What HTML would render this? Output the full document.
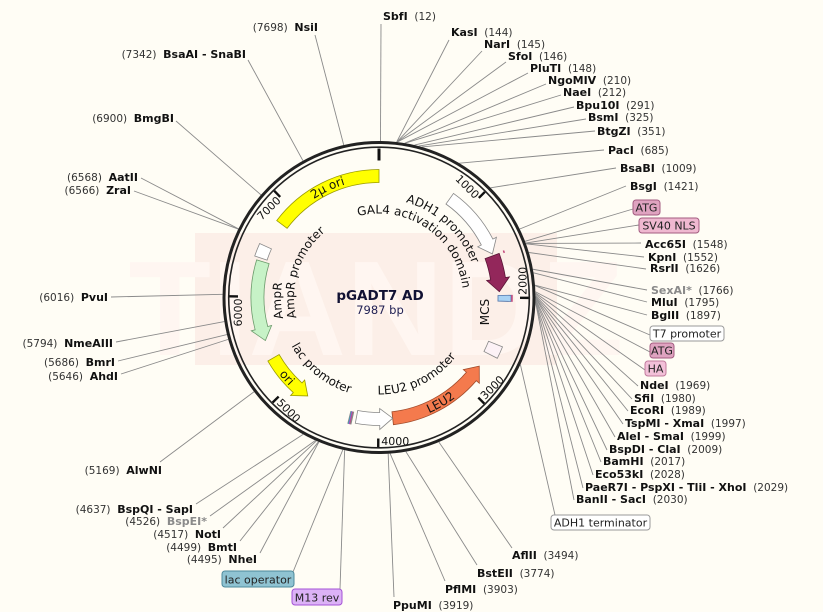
<!DOCTYPE html>
<html><head><meta charset="utf-8"><style>
html,body{margin:0;padding:0;background:#fffdf5;}
svg{display:block;font-family:"DejaVu Sans","Liberation Sans",sans-serif;}
</style></head><body>
<svg id="map" width="823" height="612" viewBox="0 0 823 612" xmlns="http://www.w3.org/2000/svg">
<rect width="823" height="612" fill="#fffdf5"/>
<rect x="195" y="233" width="362" height="132" fill="#fcefe8"/>
<text x="376" y="355" text-anchor="middle" font-size="135" font-weight="bold" fill="#fff6f1" font-family="Liberation Sans, sans-serif">TIANDZ</text>
<g id="leaders"></g>
<g id="ring"></g>
<g id="features"></g>
<g id="labels"></g>
<text x="380" y="300" text-anchor="middle" font-size="13.5" font-weight="bold" fill="#111133">pGADT7 AD</text>
<text x="380" y="314" text-anchor="middle" font-size="11.5" fill="#222255">7987 bp</text>
</svg>
<script>
const TOTAL = 7987;
// restriction sites
const siteNames = ['SbfI','KasI','NarI','SfoI','PluTI','NgoMIV','NaeI','Bpu10I','BsmI','BtgZI','PacI','BsaBI','BsgI','Acc65I','KpnI','RsrII','SexAI*','MluI','BglII','NdeI','SfiI','EcoRI','TspMI - XmaI','AleI - SmaI','BspDI - ClaI','BamHI','Eco53kI','PaeR7I - PspXI - TliI - XhoI','BanII - SacI','AflII','BstEII','PflMI','PpuMI','NheI','BmtI','NotI','BspEI*','BspQI - SapI','AlwNI','AhdI','BmrI','NmeAIII','PvuI','ZraI','AatII','BmgBI','BsaAI - SnaBI','NsiI'];
const sitePositions = [12,144,145,146,148,210,212,291,325,351,685,1009,1421,1548,1552,1626,1766,1795,1897,1969,1980,1989,1997,1999,2009,2017,2028,2029,2030,3494,3774,3903,3919,4495,4499,4517,4526,4637,5169,5646,5686,5794,6016,6566,6568,6900,7342,7698];
// layout: [textX, baselineY, side(1=right,-1=left), anchorX, anchorY]
const siteLayout = [[383,20,1,381,24],[451,36,1,449,40],[484,48,1,482,51],[508,60,1,506,62],[530,72,1,528,73],[548,84,1,546,84],[563,96,1,561,95],[576,109,1,574,107],[588,121,1,586,119],[597,135,1,595,131],[608,154,1,604,150],[620,172,1,616,168],[630,190,1,626,186],[645,248,1,641,243],[648,261,1,644,257],[650,272,1,646,269],[651,294,1,647,290],[651,306,1,647,302],[651,319,1,647,315],[640,389,1,638,386],[634,402,1,632,399],[630,414,1,628,411],[625,427,1,623,424],[617,440,1,615,437],[609,453,1,607,450],[603,465,1,601,462],[595,478,1,593,475],[585,491,1,583,488],[576,503,1,574,500],[512,559,1,512,548],[477,577,1,477,565],[445,593,1,445,581],[393,609,1,394,597],[257,563,-1,260,553],[237,551,-1,240,541],[221,538,-1,223,528],[207,525,-1,210,516],[193,513,-1,196,504],[162,474,-1,160,462],[118,380,-1,121,374],[115,366,-1,118,361],[113,347,-1,116,342],[108,301,-1,111,297],[131,194,-1,134,191],[138,181,-1,141,178],[174,122,-1,176,121],[246,58,-1,248,60],[318,31,-1,315,35]];
// boxed feature callouts
const boxNames = ['ATG','SV40 NLS','T7 promoter','ATG','HA','ADH1 terminator','lac operator','M13 rev'];
const boxPositions = [1530,1545,1900,1950,1960,2560,4290,4275];
const boxFill = ['#dfa3c0','#efb8d0','#ffffff','#dfa3c0','#f2c0d8','#ffffff','#8fc3d2','#dcb2f6'];
const boxStroke = ['#a35b80','#a35b80','#999999','#a35b80','#c07a9c','#999999','#4d8a9c','#a552d6'];
// layout: [x, y(top), w, h, anchorX, anchorY]
const boxLayout = [[633,200,27,15,633,209],[639,218,60,15,639,225],[650,326,74,15,650,335],[650,343,24,15,650,352],[645,361,21,15,645,370],[551,515,99,15,555,515],[222,571,72,16,293,572],[292,589,50,16,340,589]];
// map features
const featNames = ['2µ ori','ADH1 promoter','GAL4 activation domain','MCS','ADH1 terminator','LEU2','LEU2 promoter','ori','AmpR','AmpR promoter'];
const featStart = [6810,790,1550,1975,2480,2760,3850,4790,5530,6400];
const featEnd = [7987,1530,1935,2035,2600,3850,4230,5330,6370,6530];
const featDir = [0,1,1,0,0,-1,-1,-1,-1,0];
const featFill = ['#ffff00','#ffffff','#93275b','#a8d2f4','#fcf2f6','#f47a4d','#ffffff','#ffff00','#c7f2c7','#ffffff'];
const featStroke = ['#9a9a00','#888888','#5a1536','#5577aa','#888888','#a04a2a','#888888','#9a9a00','#6a9a6a','#888888'];
const tickValues = [1000,2000,3000,4000,5000,6000,7000];

const NS='http://www.w3.org/2000/svg';
const cx=379, cy=297.5;
function ang(p){return p/TOTAL*2*Math.PI;}
function pt(r,p){const a=ang(p);return [cx+r*Math.sin(a), cy-r*Math.cos(a)];}
function mk(tag,attrs,parent){const e=document.createElementNS(NS,tag);for(const k in attrs)e.setAttribute(k,attrs[k]);parent.appendChild(e);return e;}
const G={leaders:document.getElementById('leaders'),ring:document.getElementById('ring'),features:document.getElementById('features'),labels:document.getElementById('labels')};
const svg=document.getElementById('map');

// ring
let c1=mk('circle',{cx:cx,cy:cy,r:155,fill:'none',stroke:'#222',  'stroke-width':3},G.ring);


let c2=mk('circle',{cx:cx,cy:cy,r:150.3,fill:'none',stroke:'#222','stroke-width':1.6},G.ring);


// origin tick
{const a=pt(149,0),b=pt(137,0);let t=mk('line',{x1:a[0],y1:a[1],x2:b[0],y2:b[1],stroke:'#111','stroke-width':3},G.ring);

}
// bp ticks
tickValues.forEach(v=>{
  const a=pt(149.5,v),b=pt(141,v);
  let t=mk('line',{x1:a[0],y1:a[1],x2:b[0],y2:b[1],stroke:'#111','stroke-width':2.4},G.ring);
  
  
  const deg=v/TOTAL*360;
  const top=(deg<90||deg>270);
  const r= top?137:147.5;
  const p=pt(r,v);
  const rot= top?deg:deg-180;
  let tx=mk('text',{x:p[0],y:p[1],'font-size':11,fill:'#111','text-anchor':top?'end':'start',transform:`rotate(${rot} ${p[0]} ${p[1]})`,dx: top?-2:3},G.ring);
  tx.textContent=String(v);
  
  
});

// features
function arcD(r,a1,a2,sweep){const p1=pt(r,a1),p2=pt(r,a2);const large=Math.abs(a2-a1)/TOTAL>0.5?1:0;return `A${r} ${r} 0 ${large} ${sweep} ${p2[0]} ${p2[1]}`;}
const featR=[[115,128],[115,128],[113,128],[119,132],[118,133],[115,128],[115,128],[115,128],[115,128],[118,131]];
featNames.forEach((n,i)=>{
  const [ri,ro]=featR[i];const s=featStart[i],e=featEnd[i],d=featDir[i];
  const rm=(ri+ro)/2;const head=13/rm*TOTAL/(2*Math.PI);
  let dstr;
  if(d===1){const eb=e-head;const A=pt(ro,s),B=pt(ro+4,eb),T=pt(rm,e),C=pt(ri-4,eb),D=pt(ri,eb),E=pt(ri,s);const Bo=pt(ro,eb);
    dstr=`M${A[0]} ${A[1]} ${arcD(ro,s,eb,1)} L${B[0]} ${B[1]} L${T[0]} ${T[1]} L${C[0]} ${C[1]} L${D[0]} ${D[1]} ${arcD(ri,eb,s,0)} Z`;}
  else if(d===-1){const sb=s+head;const A=pt(ro,sb),Bo=pt(ro+4,sb),T=pt(rm,s),C=pt(ri-4,sb),D=pt(ri,sb),E=pt(ri,e),F=pt(ro,e);
    dstr=`M${A[0]} ${A[1]} ${arcD(ro,sb,e,1)} L${pt(ri,e)[0]} ${pt(ri,e)[1]} ${arcD(ri,e,sb,0)} L${C[0]} ${C[1]} L${T[0]} ${T[1]} L${Bo[0]} ${Bo[1]} Z`;}
  else {const A=pt(ro,s);const D=pt(ri,e);
    dstr=`M${A[0]} ${A[1]} ${arcD(ro,s,e,1)} L${D[0]} ${D[1]} ${arcD(ri,e,s,0)} Z`;}
  let p=mk('path',{d:dstr,fill:featFill[i],stroke:featStroke[i],'stroke-width':0.8},G.features);
  
  
});
// small marker lines
[[1538,1562,'#c2457a'],[1972,2038,'#c2457a']].forEach(m=>{const a=pt(133,m[0]),b=pt(133,m[1]);
  let l=mk('path',{d:`M${a[0]} ${a[1]} ${arcD(133,m[0],m[1],1)}`,fill:'none',stroke:m[2],'stroke-width':1.5},G.features);
  
  });
[[4300,'#888'],[4293,'#3aa0b5'],[4286,'#a552d6'],[4279,'#c2457a'],[4272,'#888']].forEach(m=>{const a=pt(117,m[0]),b=pt(130,m[0]);
  let l=mk('line',{x1:a[0],y1:a[1],x2:b[0],y2:b[1],stroke:m[1],'stroke-width':1.3},G.features);
  
  });

// curved labels
let pid=0;
function curved(txt,r,centerPos,spanBp,cw,size,name){
  const a1=centerPos-spanBp/2,a2=centerPos+spanBp/2;let d;
  if(cw){const p=pt(r,a1);d=`M${p[0]} ${p[1]} ${arcD(r,a1,a2,1)}`;}
  else{const p=pt(r,a2);d=`M${p[0]} ${p[1]} ${arcD(r,a2,a1,0)}`;}
  const id='tp'+(pid++);
  mk('path',{id:id,d:d,fill:'none',stroke:'none'},G.labels);
  const t=mk('text',{'font-size':size,fill:'#111'},G.labels);
  
  
  const tp=mk('textPath',{href:'#'+id,startOffset:'50%','text-anchor':'middle'},t);tp.textContent=txt;
}
curved('2µ ori',118,7430,1200,true,12,'label-2u-ori');
curved('ADH1 promoter',99,950,1400,true,12,'label-adh1-promoter');
curved('GAL4 activation domain',84,770,2600,true,12,'label-gal4-ad');
curved('AmpR promoter',85,6400,2200,true,12,'label-ampr-promoter');
curved('AmpR',98,5950,900,true,12,'label-ampr');
curved('lac promoter',100,4860,1500,false,12,'label-lac-promoter');
curved('LEU2 promoter',97,3420,1400,false,12,'label-leu2-promoter');
curved('LEU2',126,3320,700,false,12,'label-leu2');
curved('ori',126,5080,500,false,12,'label-ori');
{let t=mk('text',{x:489,y:312,'font-size':12,fill:'#111','text-anchor':'middle',transform:'rotate(-90 489 312)'},G.labels);t.textContent='MCS';

}

// site labels + leaders
siteNames.forEach((n,i)=>{
  const [x,y,side,ax,ay]=siteLayout[i];const pos=sitePositions[i];
  const s=pt(156.5,pos);
  let l=mk('line',{x1:s[0],y1:s[1],x2:ax,y2:ay,stroke:'#8a8a8a','stroke-width':0.9},G.leaders);
  
  
  const grey=n.indexOf('*')>=0;
  const t=mk('text',{x:x,y:y,'font-size':11,'text-anchor':side>0?'start':'end'},G.labels);
  
  
  const nm=document.createElementNS(NS,'tspan');nm.setAttribute('font-weight','bold');nm.setAttribute('fill',grey?'#8a8a8a':'#111');nm.textContent=n;
  const num=document.createElementNS(NS,'tspan');num.setAttribute('fill','#333');num.setAttribute('font-size','10.5');
  if(side>0){num.textContent='\u00a0\u00a0('+pos+')';t.appendChild(nm);t.appendChild(num);}
  else{num.textContent='('+pos+')\u00a0\u00a0';t.appendChild(num);t.appendChild(nm);}
});
boxNames.forEach((n,i)=>{
  const [x,y,w,h,ax,ay]=boxLayout[i];const s=pt(156.5,boxPositions[i]);
  let l=mk('line',{x1:s[0],y1:s[1],x2:ax,y2:ay,stroke:'#8a8a8a','stroke-width':0.9},G.leaders);
  
  
  let r=mk('rect',{x:x,y:y,width:w,height:h,rx:3,fill:boxFill[i],stroke:boxStroke[i],'stroke-width':1},G.labels);
  
  
  let t=mk('text',{x:x+w/2,y:y+h-3.5,'font-size':11,'text-anchor':'middle',fill:'#222'},G.labels);
  t.textContent=n;
  
  
});
</script>
</body></html>
